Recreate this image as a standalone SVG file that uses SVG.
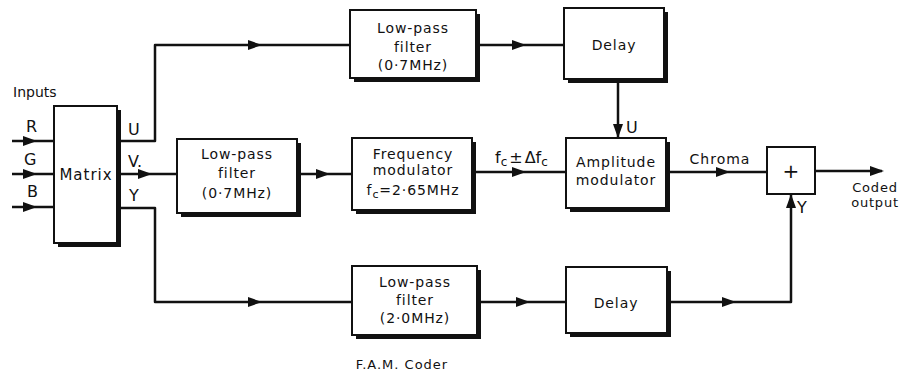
<svg xmlns="http://www.w3.org/2000/svg" xmlns:xlink="http://www.w3.org/1999/xlink" width="914" height="377" viewBox="0 0 914 377">
<style>
.bx{fill:#fff;stroke:#111;stroke-width:2}
.sh{fill:#111}
.ln{fill:none;stroke:#111;stroke-width:2.5;stroke-linejoin:round}
text{font-family:"DejaVu Sans","Liberation Sans",sans-serif;fill:#111}
.t{font-size:14px;letter-spacing:0.9px;text-anchor:middle}
.lb{font-size:16px}
.sm{font-size:13px}
</style>
<defs>
<path id="ah" d="M0,0 L-14,-5 L-14,5 Z" fill="#111"/>
</defs>
<rect width="914" height="377" fill="#fff"/>
<g id="connectors">
<path class="ln" d="M12,141 H54"/>
<path class="ln" d="M12,174 H54"/>
<path class="ln" d="M12,207 H54"/>
<use xlink:href="#ah" x="37" y="141"/>
<use xlink:href="#ah" x="37" y="174"/>
<use xlink:href="#ah" x="37" y="207"/>
<path class="ln" d="M117,141 H155 V45 H350"/>
<use xlink:href="#ah" x="262" y="45"/>
<path class="ln" d="M476,45 H564"/>
<use xlink:href="#ah" x="526" y="45"/>
<path class="ln" d="M618,83 V138"/>
<use xlink:href="#ah" transform="translate(618,138) rotate(90)"/>
<path class="ln" d="M117,174 H177"/>
<use xlink:href="#ah" x="152" y="174"/>
<path class="ln" d="M300,174 H352"/>
<use xlink:href="#ah" x="330" y="174"/>
<path class="ln" d="M476,172 H566"/>
<use xlink:href="#ah" x="526" y="172"/>
<path class="ln" d="M666,172 H767"/>
<use xlink:href="#ah" x="730" y="172"/>
<path class="ln" d="M815,171 H882"/>
<use xlink:href="#ah" x="884" y="171"/>
<path class="ln" d="M117,208 H155 V302 H352"/>
<use xlink:href="#ah" x="262" y="302"/>
<path class="ln" d="M477,302 H566"/>
<use xlink:href="#ah" x="530" y="302"/>
<path class="ln" d="M667,302 H791 V194"/>
<use xlink:href="#ah" x="736" y="302"/>
<use xlink:href="#ah" transform="translate(791,194) rotate(-90)"/>
</g>
<g id="matrix">
<rect class="sh" x="58" y="110" width="63" height="137"/>
<rect class="bx" x="54" y="106" width="63" height="137"/>
<text x="86" y="180" style="font-size:15px;letter-spacing:1px;text-anchor:middle">Matrix</text>
</g>
<g id="lpf-top">
<rect class="sh" x="354" y="14" width="126" height="68"/>
<rect class="bx" x="350" y="10" width="126" height="68"/>
<text class="t" x="413" y="33">Low-pass</text>
<text class="t" x="413" y="52">filter</text>
<text class="t" x="413" y="70">(0·7MHz)</text>
</g>
<g id="delay-top">
<rect class="sh" x="568" y="12" width="100" height="71"/>
<rect class="bx" x="564" y="8" width="100" height="71"/>
<text class="t" x="614" y="50">Delay</text>
</g>
<g id="lpf-mid">
<rect class="sh" x="181" y="143" width="120" height="74"/>
<rect class="bx" x="177" y="139" width="120" height="74"/>
<text class="t" x="237" y="159">Low-pass</text>
<text class="t" x="237" y="178">filter</text>
<text class="t" x="237" y="198">(0·7MHz)</text>
</g>
<g id="freq-mod">
<rect class="sh" x="356" y="142" width="120" height="72"/>
<rect class="bx" x="352" y="138" width="120" height="72"/>
<text class="t" x="413" y="159">Frequency</text>
<text class="t" x="413" y="175">modulator</text>
<text class="t" x="413" y="195">f<tspan dy="3" style="font-size:11px">c</tspan><tspan dy="-3">=2·65MHz</tspan></text>
</g>
<g id="amp-mod">
<rect class="sh" x="570" y="142" width="100" height="70"/>
<rect class="bx" x="566" y="138" width="100" height="70"/>
<text class="t" x="616" y="167">Amplitude</text>
<text class="t" x="616" y="185">modulator</text>
</g>
<g id="adder">
<rect class="bx" x="767" y="147" width="48" height="47"/>
<text x="791" y="178" style="font-size:20px;text-anchor:middle">+</text>
</g>
<g id="lpf-bot">
<rect class="sh" x="356" y="270" width="125" height="69"/>
<rect class="bx" x="352" y="266" width="125" height="69"/>
<text class="t" x="415" y="287">Low-pass</text>
<text class="t" x="415" y="305">filter</text>
<text class="t" x="415" y="323">(2·0MHz)</text>
</g>
<g id="delay-bot">
<rect class="sh" x="570" y="271" width="101" height="66"/>
<rect class="bx" x="566" y="267" width="101" height="66"/>
<text class="t" x="616" y="308">Delay</text>
</g>
<g id="labels">
<text class="sm" x="13" y="97" style="font-size:14px">Inputs</text>
<text class="lb" x="26" y="132">R</text>
<text class="lb" x="24" y="165">G</text>
<text class="lb" x="27" y="197">B</text>
<text class="lb" x="128" y="135">U</text>
<text class="lb" x="128" y="167">V.</text>
<text class="lb" x="129" y="201">Y</text>
<text class="lb" x="626" y="133">U</text>
<text class="lb" x="495" y="163">f<tspan dy="3" style="font-size:12px">c</tspan><tspan dy="-3" dx="2">±</tspan><tspan dx="2">Δf</tspan><tspan dy="3" style="font-size:12px">c</tspan></text>
<text x="720" y="164" style="font-size:14px;letter-spacing:1px;text-anchor:middle">Chroma</text>
<text class="lb" x="797" y="213">Y</text>
<text x="875" y="192" style="font-size:13px;letter-spacing:0.8px;text-anchor:middle">Coded</text>
<text x="875" y="207" style="font-size:13px;letter-spacing:0.8px;text-anchor:middle">output</text>
<text x="402" y="369" style="font-size:13px;letter-spacing:1px;text-anchor:middle">F.A.M. Coder</text>
</g>
</svg>
